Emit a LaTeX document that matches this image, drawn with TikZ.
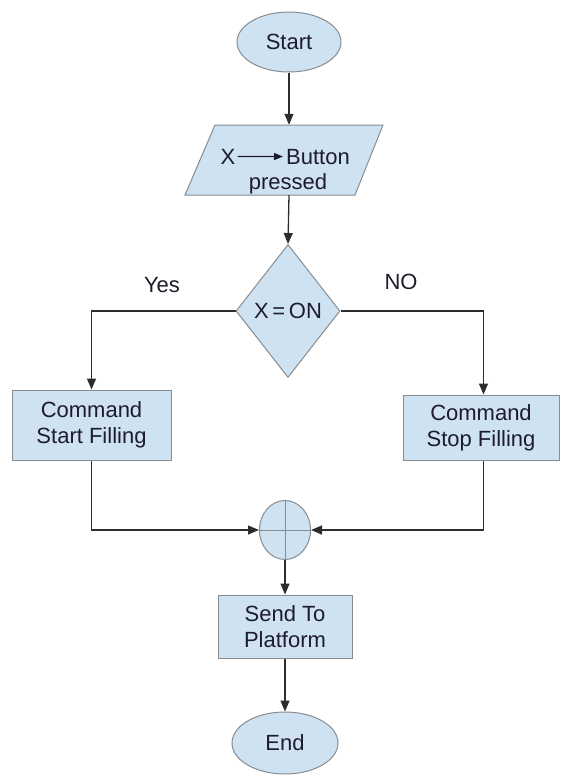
\documentclass[tikz,border=0pt]{standalone}
\usepackage{fontspec}
\setmainfont{Liberation Sans}
\usetikzlibrary{shapes.geometric,arrows.meta}
\definecolor{boxfill}{RGB}{207,226,242}
\definecolor{boxline}{RGB}{135,140,145}
\definecolor{wire}{RGB}{45,45,45}
\definecolor{ink}{RGB}{28,28,45}
\tikzset{
  shapebase/.style={draw=boxline, line width=1pt, fill=boxfill, text=ink,
    font=\fontsize{22}{26}\selectfont, align=center, inner sep=0pt},
  terminal/.style={shapebase, ellipse},
  procbox/.style={shapebase, rectangle},
  decide/.style={shapebase, diamond},
  junction/.style={shapebase, ellipse},
  flow/.style={draw=wire, line width=1.3pt, -{Triangle[length=11pt,width=9pt]}},
  plain/.style={draw=wire, line width=1.3pt},
  lbl/.style={text=ink, font=\fontsize{22}{26}\selectfont, inner sep=0pt}
}
\begin{document}
\begin{tikzpicture}[x=1pt,y=-1pt]
\useasboundingbox (0,0) rectangle (560,777);

% start / end terminals
\node[terminal, minimum width=104, minimum height=60] (start) at (289,42) {Start};
\node[terminal, minimum width=106, minimum height=62] (stop) at (285,743) {End};

% input parallelogram
\path[shapebase] (215,125) -- (383,125) -- (355,195) -- (185,195) -- cycle;
\node[minimum width=150, minimum height=70, inner sep=0pt] (input) at (289,160) {};
\node[lbl, anchor=base] (vx) at (228,164) {X};
\node[lbl, anchor=base west] (vbtn) at (286,164) {Button};
\draw[draw=ink, line width=1.2pt, -{Triangle[length=9pt,width=7pt]}]
  ([xshift=2pt]vx.east) -- ([xshift=-3pt]vbtn.west);
\node[lbl, anchor=base] (vpress) at (288,189) {pressed};

% decision
\node[decide, minimum width=104, minimum height=133] (dec) at (288,311) {X\,=\,ON};

% two commands
\node[procbox, minimum width=159, minimum height=70] (cmdA) at (91.5,425) {Command\\Start Filling};
\node[procbox, minimum width=156, minimum height=65] (cmdB) at (481,427.5) {Command\\Stop Filling};

% summing junction
\node[junction, minimum width=51, minimum height=59] (sum) at (285,530) {};
\draw[draw=boxline, line width=1pt] (sum.north) -- (sum.south) (sum.west) -- (sum.east);

% output
\node[procbox, minimum width=134, minimum height=63] (send) at (285,626.5) {Send To\\Platform};

% branch labels
\node[lbl] (yes) at (162,285) {Yes};
\node[lbl] (no) at (401,282) {NO};

% connectors
\draw[flow] (start.south) -- (start.south |- input.north);
\draw[flow] (start.south |- input.south) -- (dec.north);
\draw[flow] (dec.west) -| (cmdA.north);
\draw[flow] (dec.east) -| ([xshift=2.5pt]cmdB.north);
\draw[flow] (cmdA.south) |- (sum.west);
\draw[flow] ([xshift=2.5pt]cmdB.south) |- (sum.east);
\draw[flow] (sum.south) -- (send.north);
\draw[flow] (send.south) -- (stop.north);
\end{tikzpicture}
\end{document}
